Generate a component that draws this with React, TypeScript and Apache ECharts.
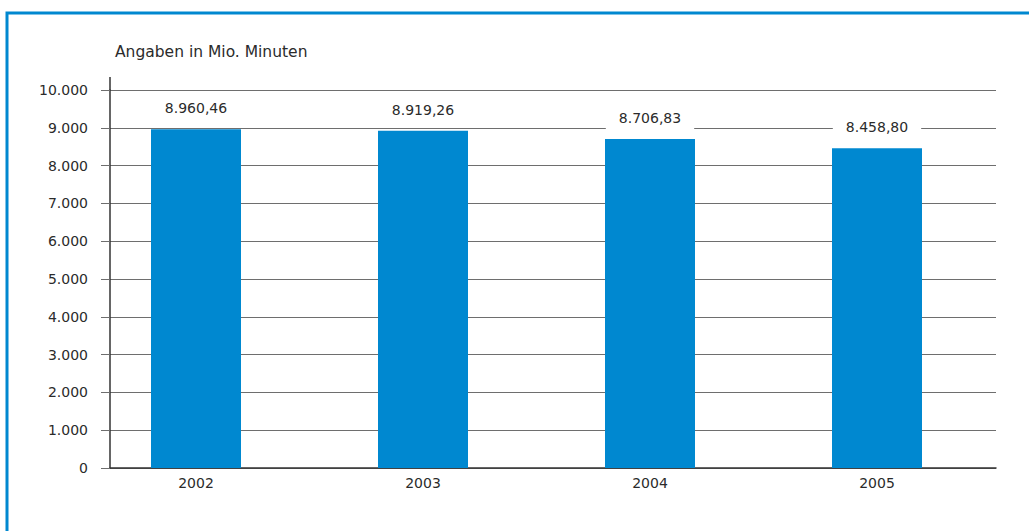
import React, { useEffect, useRef } from "react";
import * as echarts from "echarts";

const categories = ["2002", "2003", "2004", "2005"];
const values = [8960.46, 8919.26, 8706.83, 8458.8];
const yMin = 0;
const yMax = 10000;
const yInterval = 1000;
const unitLabel = "Angaben in Mio. Minuten";

const FONT = "'DejaVu Sans', sans-serif";
const FS = 14;
const TEXT = "#2b2b2b";
const BLUE = "#0088d0";

function thousands(s: string) {
  return s.replace(/\B(?=(\d{3})+(?!\d))/g, ".");
}
function fmtInt(v: number) {
  return thousands(String(Math.round(v)));
}
function fmtDec(v: number) {
  const [i, d] = v.toFixed(2).split(".");
  return thousands(i) + "," + d;
}

export default function App() {
  const ref = useRef<HTMLDivElement>(null);
  useEffect(() => {
    if (!ref.current) return;
    const chart = echarts.init(ref.current, undefined, { renderer: "svg" });
    const top = 90;
    const height = 378;
    chart.setOption({
      animation: false,
      backgroundColor: "#ffffff",
      textStyle: { fontFamily: FONT },
      graphic: [
        {
          type: "rect",
          shape: { x: 7, y: 13, width: 1100, height: 700 },
          style: { fill: "none", stroke: BLUE, lineWidth: 3 },
          silent: true,
        },
        {
          type: "line",
          shape: { x1: 110, y1: 77, x2: 110, y2: top },
          style: { stroke: "#333333", lineWidth: 1.5 },
          silent: true,
        },
        {
          type: "text",
          left: 115,
          top: 44,
          style: { text: unitLabel, font: `15.5px ${FONT}`, fill: TEXT },
          silent: true,
        },
      ],
      grid: [
        { left: 110, top, width: 886, height },
        { left: 82.5, top, width: 908, height },
      ],
      xAxis: [
        {
          gridIndex: 0,
          type: "category",
          data: categories,
          axisLine: { show: true, lineStyle: { color: "#333333", width: 1.5 } },
          axisTick: { show: false },
          axisLabel: { show: false },
          splitLine: { show: false },
        },
        {
          gridIndex: 1,
          type: "category",
          data: categories,
          axisLine: { show: false },
          axisTick: { show: false },
          axisLabel: { color: TEXT, fontSize: FS, fontFamily: FONT, margin: 8 },
        },
      ],
      yAxis: [
        {
          gridIndex: 0,
          type: "value",
          min: yMin,
          max: yMax,
          interval: yInterval,
          axisLine: { show: true, lineStyle: { color: "#333333", width: 1.5 } },
          axisTick: { show: true, inside: false, length: 9, lineStyle: { color: "#6e6e6e" } },
          axisLabel: {
            color: TEXT,
            fontSize: FS,
            fontFamily: FONT,
            margin: 22,
            formatter: (v: number) => fmtInt(v),
          },
          splitLine: { show: true, lineStyle: { color: "#6e6e6e", width: 1 } },
        },
        {
          gridIndex: 1,
          type: "value",
          min: yMin,
          max: yMax,
          interval: yInterval,
          show: false,
        },
      ],
      series: [
        {
          type: "bar",
          xAxisIndex: 1,
          yAxisIndex: 1,
          data: values,
          barWidth: 90,
          itemStyle: { color: BLUE },
          label: {
            show: true,
            position: "top",
            distance: 7,
            color: TEXT,
            fontSize: FS,
            fontFamily: FONT,
            backgroundColor: "#ffffff",
            padding: [7, 13],
            formatter: (p: any) => fmtDec(p.value),
          },
        },
      ],
    });
    return () => chart.dispose();
  }, []);
  return (
    <div
      ref={ref}
      style={{ position: "absolute", left: 0, top: 0, width: 1029, height: 531 }}
    />
  );
}
